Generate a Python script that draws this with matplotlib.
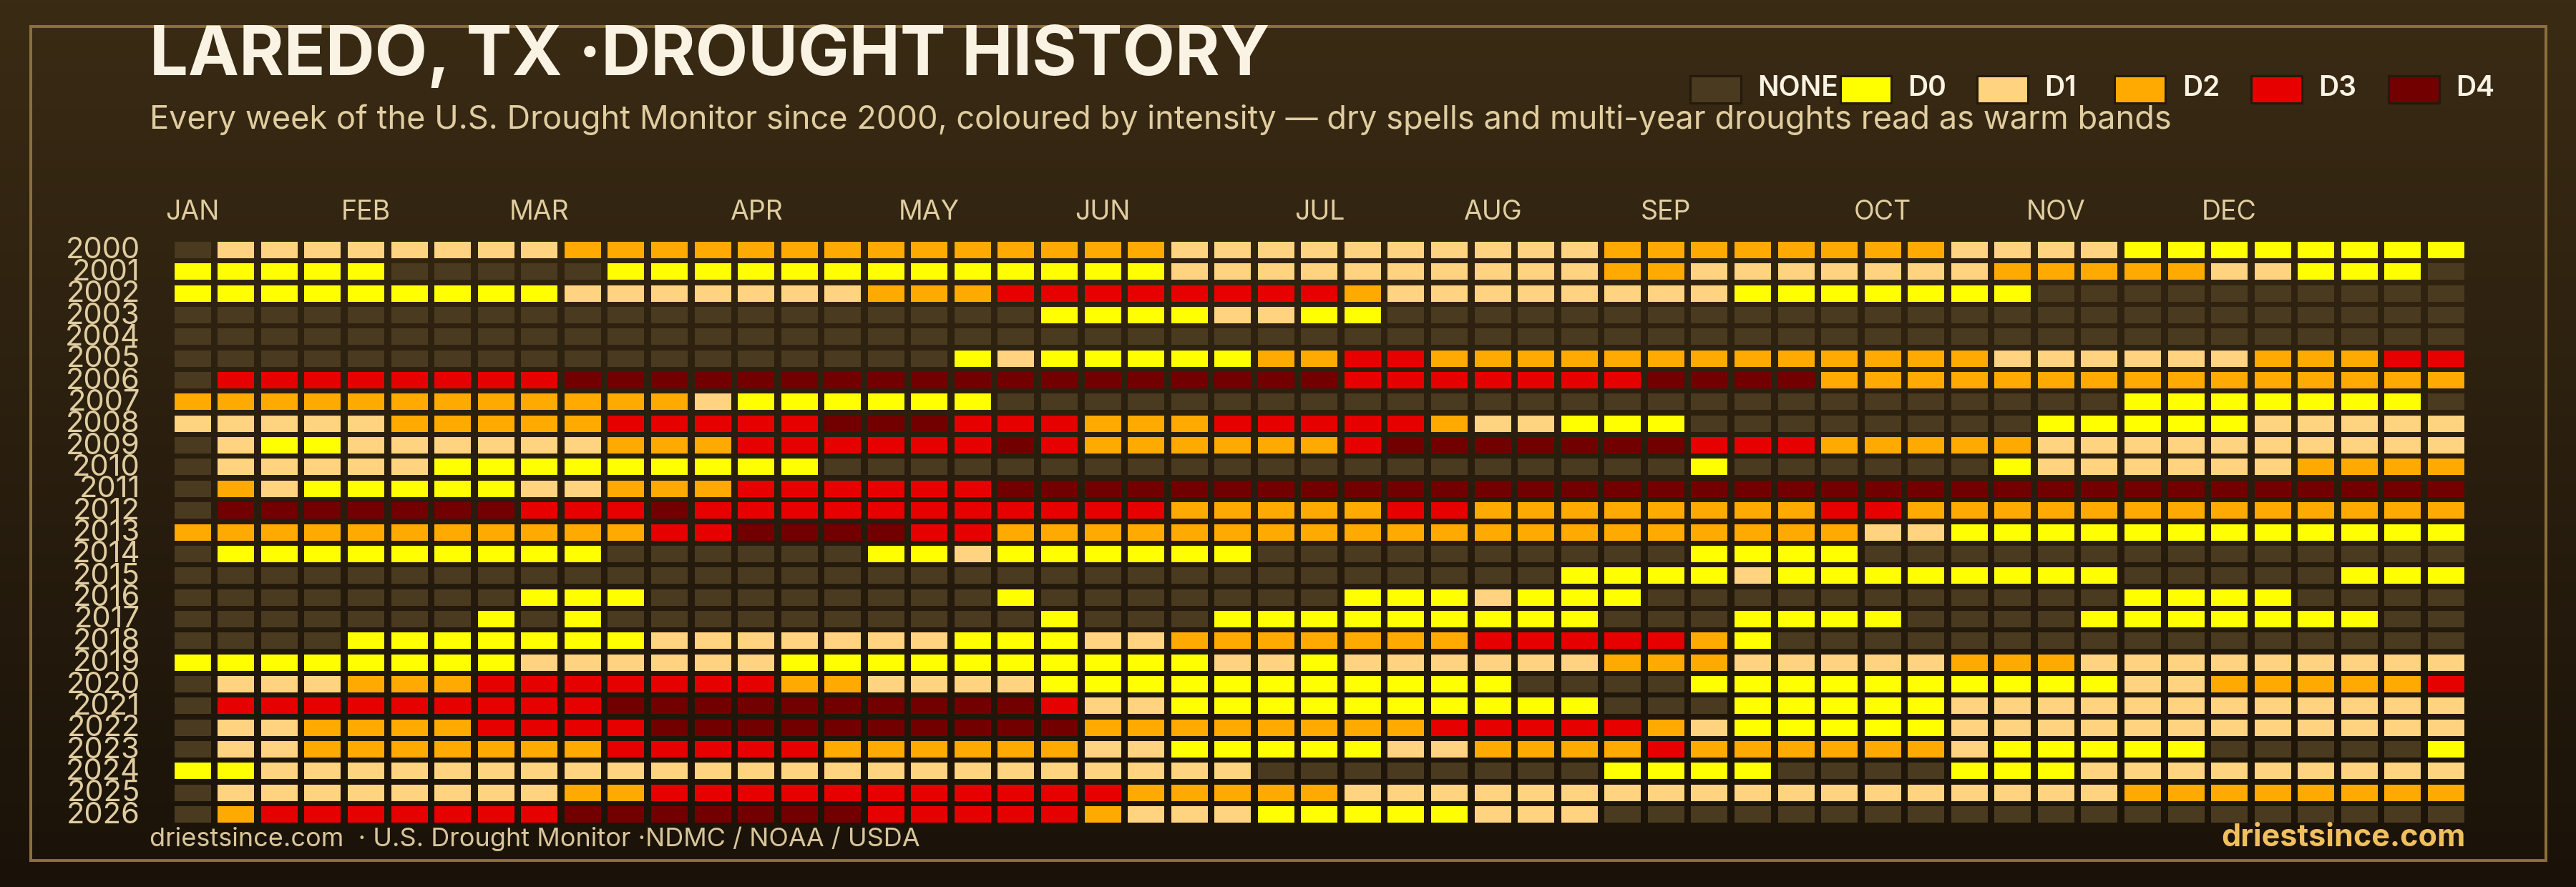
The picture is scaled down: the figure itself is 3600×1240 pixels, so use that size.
import numpy as np
import matplotlib
matplotlib.use("Agg")
import matplotlib.pyplot as plt
from matplotlib.colors import LinearSegmentedColormap
from matplotlib.patches import Rectangle
from matplotlib.transforms import ScaledTranslation

W, H = 3600, 1240
FONT = "Inter"
plt.rcParams['font.family'] = [FONT, 'DejaVu Sans']

years = list(range(2000, 2027))
months = ["JAN", "FEB", "MAR", "APR", "MAY", "JUN", "JUL", "AUG", "SEP", "OCT", "NOV", "DEC"]
month_weeks = [0, 4, 8, 13, 17, 21, 26, 30, 34, 39, 43, 47]

# one char per week: . = no drought, 0-4 = D0-D4
levels = [
    ".11111111 22222222 222222 1111111111 222 22222 1111 00000000",
    "00000 ..... 0000000 000000 1111111111 22 1 111111 22222 11 000 .",
    "000000000 1111111 2 22 33333333 2 11111111 0000000 ..........",
    "................. ... 0000 11 00 ........ .................",
    "................. ................... .................",
    "................. . 0 1 00000 22 33 2222222 222222 111111 222 33",
    ". 33333333 44444444 4444444444 3333333 44 44 222222222222222",
    "222222222222 1 0000 00 ................. ......... 0000000 .",
    "11111 22222 33333 44 4 333 222 33333 2 11 000 . ....... 00000 11111",
    ". 1 00 111111 222 3333 33 4 3 222222 3 4444444 3 33 22222 1111111111",
    ". 11111 000000000 .. .................. 0 ...... 0 111111 2222",
    ". 2 1 00000 11 222 3333 33 44444444444444444 44444444444444444",
    ". 4444444 333 4 33333 333333 22222 33 222222 22 33 2222222222222",
    "22222222222 33 4444 33 22222222222222222 222 11 000000000000",
    ". 000000000 ...... 0 0 1 000000 .......... 0 000 ..............",
    "................. ............... 0000 1 00000000 ..... 000",
    "........ 000 ...... .. 0 ....... 000 1 000 .. ......... 0000 ....",
    "....... 0 . 0 ....... ... 0 ... 000000000 ... 0000 .... 0000000 ..",
    ".... 0000000 111111 1 000 11 2222222 33333 2 0 ................",
    "00000000 111111 000 0000000 11 0 111111 222 11111 222 111111111",
    ". 111 222 3333333 22 1 111 00000000000 .... 0 000000000 11 22222 3",
    ". 333333333 4444444 444 3 11 0000000000 ... 00000 111111111111",
    ". 11 2222 3333 444444 4444 22222222 33333 2 1 00000 111111111111",
    ". 11 2222222 33333 22 2222 11 00000 11 2222 3 2 22222 1 00000 ..... 0",
    "00 111111111111111 11111111 ........ 000 0 .... 000 111111111",
    ". 11111111 22 333333 33333 22222 111111111 111111111 22222222",
    ". 2 3333333 4444444 3 3333 2 111 00000 111 ... .................",
]

legend_labels = ["NONE", "D0", "D1", "D2", "D3", "D4"]
level_colors = {".": "#4a3a20", "0": "#ffff00", "1": "#ffd37f", "2": "#ffaa00", "3": "#e60000", "4": "#730000"}
legend_keys = [".", "0", "1", "2", "3", "4"]

CREAM = "#faf3e3"
TAN = "#e0cda0"


def fx(px):
    return px / W


def fy(px):
    return 1 - px / H


fig = plt.figure(figsize=(W / 100, H / 100), dpi=100)

# background gradient
bg = fig.add_axes([0, 0, 1, 1], zorder=0)
bg_cmap = LinearSegmentedColormap.from_list("bg", ["#3a2b14", "#1a1209"])
bg.imshow(np.linspace(0, 1, H).reshape(-1, 1), aspect="auto", cmap=bg_cmap)
bg.axis("off")

fig.add_artist(Rectangle((fx(43), fy(1203)), fx(3515), 1166 / H, fill=False,
                         edgecolor="#8a6f3c", linewidth=2.9, transform=fig.transFigure))

# heatmap, one row of bars per year
ax = fig.add_axes([239 / W, fy(1153.8), 3209.7 / W, 819.5 / H], zorder=2)
ax.patch.set_alpha(0)
for row, year in enumerate(years):
    weeks = levels[row].replace(" ", "")
    ax.bar(range(len(weeks)), 23 / 30.35, width=51 / 60.56, bottom=row - 11.5 / 30.35,
           color=[level_colors[w] for w in weeks], linewidth=0)
ax.set_xlim(-0.5, 52.5)
ax.set_ylim(26.5, -0.5)
ax.xaxis.tick_top()
ax.set_xticks(month_weeks, months)
ax.set_yticks(range(len(years)), years)
ax.tick_params(axis="x", length=0, pad=14, labelsize=27, labelcolor=TAN)
ax.tick_params(axis="y", length=0, pad=31, labelsize=30, labelcolor=TAN)
up = ScaledTranslation(0, 3 / 100, fig.dpi_scale_trans)
for lab in ax.get_yticklabels():
    lab.set_transform(lab.get_transform() + up)
for s in ax.spines.values():
    s.set_visible(False)

# title block
fig.text(fx(209), fy(105), "LAREDO, TX ·DROUGHT HISTORY", fontsize=68.7, fontweight="bold",
         color=CREAM, va="baseline", ha="left", zorder=5)
fig.text(fx(209), fy(180), "Every week of the U.S. Drought Monitor since 2000, coloured by intensity \u2014 dry spells and multi-year droughts read as warm bands",
         fontsize=32.5, color=TAN, va="baseline", ha="left", zorder=5)

# legend
legend_x = [2360, 2570, 2761, 2953, 3144, 3336]
legend_text_x = [2456, 2666, 2857, 3050, 3240, 3432]
for x, tx, key, label in zip(legend_x, legend_text_x, legend_keys, legend_labels):
    fig.add_artist(Rectangle((fx(x + 1.5), fy(143.5)), 71 / W, 38 / H, facecolor=level_colors[key],
                             edgecolor="#241a0c", linewidth=2.2, transform=fig.transFigure))
    fig.text(fx(tx), fy(134), label, fontsize=28, fontweight="semibold", color=CREAM, va="baseline", ha="left")

# footer
fig.text(fx(209), fy(1183), "driestsince.com  \u00b7 U.S. Drought Monitor \u00b7NDMC / NOAA / USDA",
         fontsize=26, color="#d8c59a", va="baseline", ha="left")
fig.text(fx(3446), fy(1183), "driestsince.com", fontsize=31, fontweight="bold",
         color="#f0c060", va="baseline", ha="right")

fig.savefig("out.png", dpi=100, facecolor="#1a1209")
